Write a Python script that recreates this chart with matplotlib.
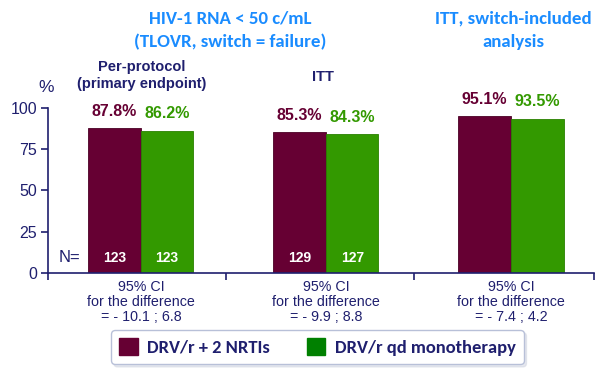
import matplotlib
matplotlib.use("Agg")
import matplotlib.pyplot as plt
from matplotlib.patches import Patch
from matplotlib.transforms import blended_transform_factory

# ---- data ----
groups = ["Per-protocol", "ITT", "ITT, switch-included"]
dual_vals = [87.8, 85.3, 95.1]      # DRV/r + 2 NRTIs
mono_vals = [86.2, 84.3, 93.5]      # DRV/r qd monotherapy
n_dual = ["123", "129", ""]
n_mono = ["123", "127", ""]
ci_text = ["= - 10.1 ; 6.8", "= - 9.9 ; 8.8", "= - 7.4 ; 4.2"]
series_names = ["DRV/r + 2 NRTIs", "DRV/r qd monotherapy"]
yticks = [0, 25, 50, 75, 100]

# ---- style ----
MAROON = "#660033"
GREEN = "#339900"
NAVY = "#1f1f6e"
BLUE = "#1a8cff"
plt.rcParams['font.family'] = ['Liberation Sans', 'DejaVu Sans']

fig = plt.figure(figsize=(6.0, 3.69), dpi=100)
ax = fig.add_axes([0.0805, 0.261, 0.91, 0.4455])

w = 0.284
xs = list(range(len(groups)))
b1 = ax.bar([x - w / 2 for x in xs], dual_vals, width=w, color=MAROON,
            edgecolor="#4a0025", linewidth=0.6)
b2 = ax.bar([x + w / 2 for x in xs], mono_vals, width=w, color=GREEN,
            edgecolor="#2a8000", linewidth=0.6)

ax.set_xlim(-0.5, 2.45)
ax.set_ylim(0, 100)

for sp in ["top", "right"]:
    ax.spines[sp].set_visible(False)
for sp in ["left", "bottom"]:
    ax.spines[sp].set_color(NAVY)
    ax.spines[sp].set_linewidth(1.2)

ax.set_yticks(yticks)
ax.tick_params(axis="y", direction="out", length=5, width=1.2, color=NAVY,
               labelcolor=NAVY, labelsize=11.5, pad=3)
ax.set_xticks([-0.5, 0.46, 1.478, 2.45])
ax.set_xticklabels([])
ax.tick_params(axis="x", direction="out", length=5, width=1.2, color=NAVY)

# value labels
for bars, vals, col in [(b1, dual_vals, MAROON), (b2, mono_vals, GREEN)]:
    for r, v in zip(bars, vals):
        ax.annotate(f"{v}%", (r.get_x() + r.get_width() / 2, v),
                    xytext=(0, 12.3), textcoords="offset points",
                    ha="center", va="center", color=col,
                    fontsize=11.5, fontweight="bold")

# N labels
for bars, ns in [(b1, n_dual), (b2, n_mono)]:
    for r, n in zip(bars, ns):
        if n:
            ax.text(r.get_x() + r.get_width() / 2, 9, n, ha="center",
                    va="center", color="white", fontsize=10,
                    fontweight="bold")
ax.text(-0.386, 9, "N=", ha="center", va="center", color=NAVY, fontsize=12)

# CI text below axis
tr = blended_transform_factory(ax.transData, fig.transFigure)
for x, c in zip(xs, ci_text):
    ax.text(x, 1 - 286.7 / 369, "95% CI", transform=tr, ha="center",
            va="center", color=NAVY, fontsize=10.3)
    ax.text(x, 1 - 301.7 / 369, "for the difference", transform=tr,
            ha="center", va="center", color=NAVY, fontsize=10.3)
    ax.text(x, 1 - 316.7 / 369, c, transform=tr, ha="center",
            va="center", color=NAVY, fontsize=10.3)

# headings
TF = ['Carlito', 'Lato', 'DejaVu Sans']
fig.text(230 / 600, 1 - 18 / 369, "HIV-1 RNA < 50 c/mL", ha="center",
         va="center", color=BLUE, fontsize=13.6, fontweight="bold", family=TF)
fig.text(230 / 600, 1 - 42 / 369, "(TLOVR, switch = failure)", ha="center",
         va="center", color=BLUE, fontsize=13.6, fontweight="bold", family=TF)
fig.text(513 / 600, 1 - 18 / 369, "ITT, switch-included", ha="center",
         va="center", color=BLUE, fontsize=13.6, fontweight="bold", family=TF)
fig.text(513 / 600, 1 - 42 / 369, "analysis", ha="center",
         va="center", color=BLUE, fontsize=13.6, fontweight="bold", family=TF)

fig.text(142 / 600, 1 - 67 / 369, groups[0], ha="center", va="center",
         color=NAVY, fontsize=10.5, fontweight="bold")
fig.text(142 / 600, 1 - 84 / 369, "(primary endpoint)", ha="center",
         va="center", color=NAVY, fontsize=10.5, fontweight="bold")
fig.text(323 / 600, 1 - 77 / 369, groups[1], ha="center", va="center",
         color=NAVY, fontsize=10.5, fontweight="bold")
fig.text(46 / 600, 1 - 88 / 369, "%", ha="center", va="center",
         color=NAVY, fontsize=12.5)

# legend
handles = [Patch(facecolor=MAROON, edgecolor=MAROON),
           Patch(facecolor="#008000", edgecolor="#008000")]
leg = fig.legend(handles, series_names, loc="center",
                 bbox_to_anchor=(0.529, 1 - 347 / 369), ncol=2,
                 frameon=True, fancybox=True,
                 shadow={"color": "#cfd3e0", "ox": 2, "oy": -2},
                 edgecolor="#b8c0d8", handlelength=1.0, handleheight=1.0,
                 handletextpad=0.5, columnspacing=2.0, borderpad=0.45,
                 prop={"family": TF, "weight": "bold", "size": 13.3})
for t in leg.get_texts():
    t.set_color(NAVY)

fig.savefig("out.png", dpi=100)
